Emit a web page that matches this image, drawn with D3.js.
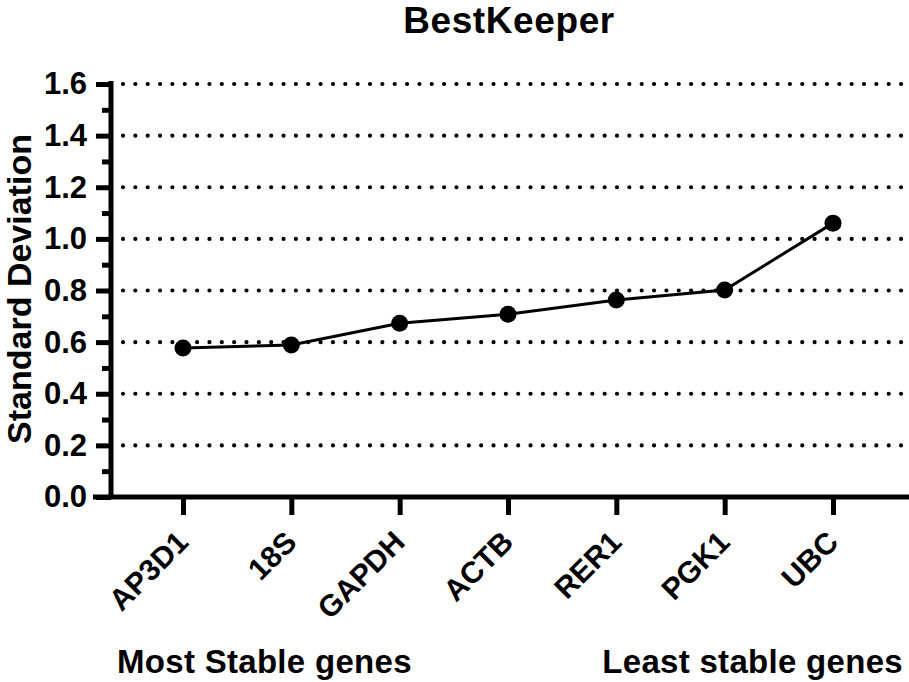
<!DOCTYPE html>
<html><head><meta charset="utf-8">
<script src="https://cdn.jsdelivr.net/npm/d3@7"></script>
<style>
body{margin:0;background:#fff;}
text{font-family:"Liberation Sans",Arial,sans-serif;font-weight:bold;fill:#000;}
</style></head>
<body><svg id="c" width="909" height="682"></svg>
<script>
const genes = ["AP3D1","18S","GAPDH","ACTB","RER1","PGK1","UBC"];
const stdDev = [0.577,0.589,0.673,0.708,0.763,0.802,1.061];
const yTicks = [0,0.2,0.4,0.6,0.8,1.0,1.2,1.4,1.6];
const yMinorTicks = [0.1,0.3,0.5,0.7,0.9,1.1,1.3,1.5];
const gridValues = [0.2,0.4,0.6,0.8,1.0,1.2,1.4,1.6];

const svg = d3.select("#c");
const FONT = "Liberation Sans";
const axisX = 111, axisY = 497;
const x = d3.scalePoint().domain(genes).range([183, 833]);
const y = d3.scaleLinear().domain([0,1.6]).range([497, 84]);

// grid
svg.append("g").selectAll("line").data(gridValues).join("line")
  .attr("x1",123).attr("x2",909)
  .attr("y1",d=>y(d)).attr("y2",d=>y(d))
  .attr("stroke","#000").attr("stroke-width",4.2)
  .attr("stroke-linecap","round").attr("stroke-dasharray","0 12.35");

// y axis
const yAxis = d3.axisLeft(y).tickValues(yTicks).tickFormat(d3.format(".1f")).tickSize(15).tickPadding(9);
const gy = svg.append("g").attr("transform",`translate(${axisX},0)`).call(yAxis);
gy.select(".domain").remove();
gy.selectAll(".tick line").attr("stroke","#000").attr("stroke-width",5);
gy.selectAll(".tick text").attr("font-size",31).attr("font-family",FONT).attr("font-weight","bold").attr("fill","#000");
const yMinor = d3.axisLeft(y).tickValues(yMinorTicks).tickSize(9).tickFormat("");
const gym = svg.append("g").attr("transform",`translate(${axisX},0)`).call(yMinor);
gym.select(".domain").remove();
gym.selectAll(".tick line").attr("stroke","#000").attr("stroke-width",5);
svg.append("line").attr("x1",axisX).attr("x2",axisX).attr("y1",y(1.6)-3).attr("y2",axisY)
  .attr("stroke","#000").attr("stroke-width",5);

// x axis
svg.append("line").attr("x1",93).attr("x2",909).attr("y1",axisY).attr("y2",axisY)
  .attr("stroke","#000").attr("stroke-width",5);
const xAxis = d3.axisBottom(x).tickSize(18).tickFormat("");
const gx = svg.append("g").attr("transform",`translate(0,${axisY})`).call(xAxis);
gx.select(".domain").remove();
gx.selectAll(".tick line").attr("stroke","#000").attr("stroke-width",5);
svg.append("g").selectAll("text").data(genes).join("text")
  .attr("transform",d=>`translate(${x(d)+7},${axisY+47}) rotate(-45)`)
  .attr("text-anchor","end").attr("font-size",30).text(d=>d);

// line + points
const line = d3.line().x((d,i)=>x(genes[i])).y(d=>y(d));
svg.append("path").datum(stdDev).attr("d",line).attr("fill","none")
  .attr("stroke","#000").attr("stroke-width",3);
svg.append("g").selectAll("circle").data(stdDev).join("circle")
  .attr("cx",(d,i)=>x(genes[i])).attr("cy",d=>y(d)).attr("r",8.5).attr("fill","#000");

// texts
svg.append("text").attr("x",509).attr("y",33).attr("text-anchor","middle").attr("font-size",37).attr("letter-spacing",0.6).text("BestKeeper");
svg.append("text").attr("transform","translate(31,289) rotate(-90)").attr("text-anchor","middle").attr("font-size",34).text("Standard Deviation");
svg.append("text").attr("x",117).attr("y",673).attr("font-size",33).attr("letter-spacing",0.3).text("Most Stable genes");
svg.append("text").attr("x",903).attr("y",673).attr("text-anchor","end").attr("font-size",33).attr("letter-spacing",0.3).text("Least stable genes");
</script></body></html>
